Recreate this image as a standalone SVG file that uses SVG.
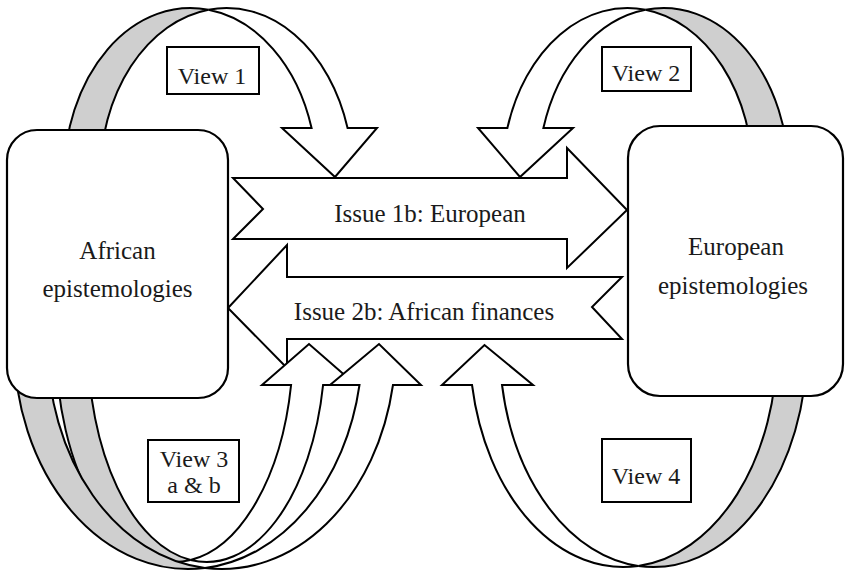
<svg xmlns="http://www.w3.org/2000/svg" width="845" height="571" viewBox="0 0 845 571">
<style>
.ln{stroke:#000;stroke-width:2;stroke-linejoin:miter}
.front{fill:#fff}
.back{fill:#cfcfcf}
.node{fill:#fff;stroke:#000;stroke-width:2.2}
.lbl{fill:#fff;stroke:#000;stroke-width:2}
.t{font-family:"Liberation Serif","Times New Roman",serif;font-size:25px;fill:#1a1a1a;text-anchor:middle}
.v{font-size:24px}
</style>
<rect width="845" height="571" fill="#fff"/>
<g id="connectors">
  <g id="issue1b">
    <path class="ln front" d="M233 178 L567 178 L567 148 L627 210 L567 268 L567 239 L233 239 L263 209 Z"/>
    <text class="t" x="430" y="222">Issue 1b: European</text>
  </g>
  <g id="issue2b">
    <path class="ln front" d="M228 308 L287 245 L287 277 L622 277 L592 307 L622 339 L287 339 L287 368 Z"/>
    <text class="t" x="424" y="320">Issue 2b: African finances</text>
  </g>
  <g id="view1-arrow">
    <path class="ln back" d="M64 177 A126.5 169 0 0 1 208.5 9.72 A126.5 169 0 0 0 100 177 Z"/>
    <path class="ln front" d="M311.57 128 A126.5 169 0 0 0 208.5 9.72 A126.5 169 0 0 1 347.57 128 L377 128 L335 177 L282 128 Z"/>
  </g>
  <g id="view2-arrow">
    <path class="ln back" d="M789 177 A125.5 169 0 0 0 645.5 9.75 A125.5 169 0 0 1 753 177 Z"/>
    <path class="ln front" d="M543.39 128 A125.5 169 0 0 1 645.5 9.75 A125.5 169 0 0 0 507.39 128 L478 128 L520 177 L573 128 Z"/>
  </g>
  <g id="view3a-arrow">
    <path class="ln back" d="M56 344 A118.6 218 0 0 0 190.6 560 A118.6 218 0 0 1 88 344 Z"/>
    <path class="ln front" d="M291.08 385 A118.6 218 0 0 1 190.6 560 A118.6 218 0 0 0 323.08 385 L356 385 L309 344 L262 385 Z"/>
  </g>
  <g id="view3b-arrow">
    <path class="ln back" d="M14 344 A174.2 225 0 0 0 204.95 567.96 A174.2 225 0 0 1 47.5 344 Z"/>
    <path class="ln front" d="M359.48 385 A174.2 225 0 0 1 204.95 567.96 A174.2 225 0 0 0 392.98 385 L421 385 L379 344 L330 385 Z"/>
  </g>
  <g id="view4-arrow">
    <path class="ln back" d="M807.1 345 A153.8 222 0 0 1 638.3 565.94 A153.8 222 0 0 0 777.1 345 Z"/>
    <path class="ln front" d="M502.02 385 A153.8 222 0 0 0 638.3 565.94 A153.8 222 0 0 1 472.02 385 L442 385 L484.5 345 L533 385 Z"/>
  </g>
</g>
<g id="african">
  <rect class="node" x="7" y="130" width="221" height="268" rx="30" ry="30"/>
  <text class="t" x="117.5" y="259">African</text>
  <text class="t" x="117.5" y="297">epistemologies</text>
</g>
<g id="european">
  <rect class="node" x="628" y="126" width="215" height="270" rx="32" ry="32"/>
  <text class="t" x="736" y="255">European</text>
  <text class="t" x="733" y="294">epistemologies</text>
</g>
<g id="view1">
  <rect class="lbl" x="167" y="47" width="92" height="47"/>
  <text class="t v" x="212" y="84">View 1</text>
</g>
<g id="view2">
  <rect class="lbl" x="602" y="47" width="89" height="44"/>
  <text class="t v" x="646" y="81">View 2</text>
</g>
<g id="view3">
  <rect class="lbl" x="148" y="440" width="91" height="62"/>
  <text class="t v" x="194" y="467">View 3</text>
  <text class="t v" x="194" y="493">a &amp; b</text>
</g>
<g id="view4">
  <rect class="lbl" x="602" y="439" width="89" height="63"/>
  <text class="t v" x="646" y="484">View 4</text>
</g>
</svg>
